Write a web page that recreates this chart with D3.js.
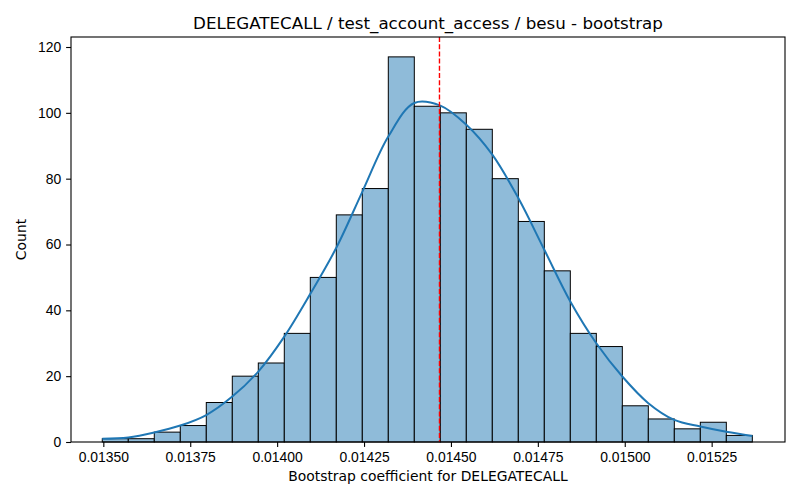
<!DOCTYPE html>
<html>
<head>
<meta charset="utf-8">
<script src="https://cdn.jsdelivr.net/npm/d3@7"></script>
<style>
  body { margin: 0; background: #fff; }
  svg { font-family: "DejaVu Sans", sans-serif; }
  .axis text { font-size: 13.9px; fill: #000; }
  .axis path, .axis line { stroke: #000; stroke-width: 1.1; }
</style>
</head>
<body>
<div class="chart"></div>
<script>
// histogram bins (bootstrap coefficient) and counts
const binStart = 0.013497;
const binWidth = 0.0000748;
const counts = [1, 1, 3, 5, 12, 20, 24, 33, 50, 69, 77, 117, 102, 100, 95, 80, 67, 52, 33, 29, 11, 7, 4, 6, 2];

// kde curve read at each bin edge (in count units)
const kdeValues = [1.0, 1.4, 2.9, 5.0, 8.2, 13.8, 21.4, 32, 45, 59, 76, 92.8, 103.0, 102.2, 96.4, 87.3, 74.1, 58.4, 42.7, 30.0, 19.9, 11.8, 6.7, 4.7, 3.1, 1.8];

const meanValue = 0.014467;
const xTicks = [0.0135, 0.01375, 0.014, 0.01425, 0.0145, 0.01475, 0.015, 0.01525];
const yTicks = [0, 20, 40, 60, 80, 100, 120];

const width = 800;
const height = 500;
const margin = { top: 37, right: 15, bottom: 58, left: 71 };

const svg = d3.select(".chart").append("svg")
    .attr("width", width)
    .attr("height", height);

const xScale = d3.scaleLinear()
    .domain([0.013407, 0.015461])
    .range([margin.left, width - margin.right]);

const yScale = d3.scaleLinear()
    .domain([0, 123.04])
    .range([height - margin.bottom, margin.top]);

const bins = counts.map((c, i) => ({
    x0: binStart + i * binWidth,
    x1: binStart + (i + 1) * binWidth,
    count: c
}));

// bars
svg.append("g")
    .selectAll("rect")
    .data(bins)
    .enter()
    .append("rect")
    .attr("x", d => xScale(d.x0))
    .attr("width", d => xScale(d.x1) - xScale(d.x0))
    .attr("y", d => yScale(d.count))
    .attr("height", d => yScale(0) - yScale(d.count))
    .attr("fill", "#8fbbd9")
    .attr("stroke", "#000")
    .attr("stroke-width", 1);

// kde line
const kdePoints = kdeValues.map((v, i) => ({ x: binStart + i * binWidth, y: v }));
const line = d3.line()
    .x(d => xScale(d.x))
    .y(d => yScale(d.y))
    .curve(d3.curveCatmullRom.alpha(0.5));

svg.append("path")
    .datum(kdePoints)
    .attr("d", line)
    .attr("fill", "none")
    .attr("stroke", "#1f77b4")
    .attr("stroke-width", 2);

// mean line
svg.append("line")
    .attr("x1", xScale(meanValue))
    .attr("x2", xScale(meanValue))
    .attr("y1", margin.top)
    .attr("y2", height - margin.bottom)
    .attr("stroke", "#ff0000")
    .attr("stroke-width", 1.4)
    .attr("stroke-dasharray", "5,2.2");

// axes
const xAxis = d3.axisBottom(xScale)
    .tickValues(xTicks)
    .tickFormat(d3.format(".5f"))
    .tickSize(4.9)
    .tickPadding(4.9)
    .tickSizeOuter(0);
const yAxis = d3.axisLeft(yScale)
    .tickValues(yTicks)
    .tickSize(4.9)
    .tickPadding(4.9)
    .tickSizeOuter(0);

svg.append("g")
    .attr("class", "axis")
    .attr("transform", "translate(0," + (height - margin.bottom) + ")")
    .call(xAxis)
    .call(g => g.select(".domain").remove());
svg.append("g")
    .attr("class", "axis")
    .attr("transform", "translate(" + margin.left + ",0)")
    .call(yAxis)
    .call(g => g.select(".domain").remove());

// frame
svg.append("rect")
    .attr("x", margin.left)
    .attr("y", margin.top)
    .attr("width", width - margin.left - margin.right)
    .attr("height", height - margin.top - margin.bottom)
    .attr("fill", "none")
    .attr("stroke", "#000")
    .attr("stroke-width", 1.1);

// labels
svg.append("text")
    .attr("x", (margin.left + width - margin.right) / 2)
    .attr("y", 29)
    .attr("text-anchor", "middle")
    .attr("font-size", "16.7px")
    .text("DELEGATECALL / test_account_access / besu - bootstrap");

svg.append("text")
    .attr("x", (margin.left + width - margin.right) / 2)
    .attr("y", 481)
    .attr("text-anchor", "middle")
    .attr("font-size", "13.9px")
    .text("Bootstrap coefficient for DELEGATECALL");

svg.append("text")
    .attr("transform", "translate(25.5," + ((margin.top + height - margin.bottom) / 2) + ") rotate(-90)")
    .attr("text-anchor", "middle")
    .attr("font-size", "13.9px")
    .text("Count");
</script>
</body>
</html>
